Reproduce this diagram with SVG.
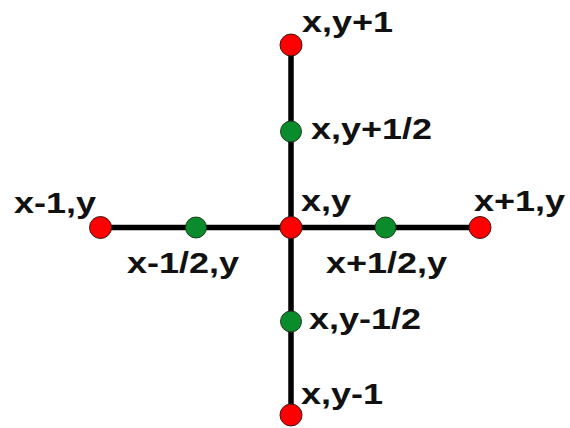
<svg xmlns="http://www.w3.org/2000/svg" width="570" height="428" viewBox="0 0 570 428">
<style>
.ln{stroke:#000;stroke-width:5.5;fill:none}
.r{fill:#ff0000;stroke:#3a1a1a;stroke-width:1}
.g{fill:#0b8c2c;stroke:#1a3a1a;stroke-width:1}
.t{font-family:"Liberation Sans",Arial,sans-serif;font-weight:bold;font-size:30px;fill:#111}
</style>
<rect width="570" height="428" fill="#fff"/>
<g id="connectors">
<line class="ln" x1="291" y1="45" x2="291" y2="415"/>
<line class="ln" x1="100.5" y1="227.5" x2="480" y2="227.5"/>
</g>
<g id="n-top"><circle class="r" cx="291" cy="45" r="11"/><text class="t" transform="translate(302,32) scale(1.2,1)">x,y+1</text></g>
<g id="n-tophalf"><circle class="g" cx="291" cy="131.5" r="10.5"/><text class="t" transform="translate(311,139) scale(1.2,1)">x,y+1/2</text></g>
<g id="n-left"><circle class="r" cx="100.5" cy="227.5" r="11"/><text class="t" transform="translate(14,213) scale(1.2,1)">x-1,y</text></g>
<g id="n-lefthalf"><circle class="g" cx="196" cy="227.5" r="10.5"/><text class="t" transform="translate(127,273) scale(1.2,1)">x-1/2,y</text></g>
<g id="n-center"><circle class="r" cx="291" cy="227.5" r="11"/><text class="t" transform="translate(301,211) scale(1.2,1)">x,y</text></g>
<g id="n-righthalf"><circle class="g" cx="385.5" cy="227.5" r="10.5"/><text class="t" transform="translate(326,273) scale(1.2,1)">x+1/2,y</text></g>
<g id="n-right"><circle class="r" cx="480" cy="227.5" r="11"/><text class="t" transform="translate(474,211) scale(1.2,1)">x+1,y</text></g>
<g id="n-bottomhalf"><circle class="g" cx="291" cy="321.5" r="10.5"/><text class="t" transform="translate(309,329) scale(1.2,1)">x,y-1/2</text></g>
<g id="n-bottom"><circle class="r" cx="291" cy="415" r="11"/><text class="t" transform="translate(301,404) scale(1.2,1)">x,y-1</text></g>
</svg>
